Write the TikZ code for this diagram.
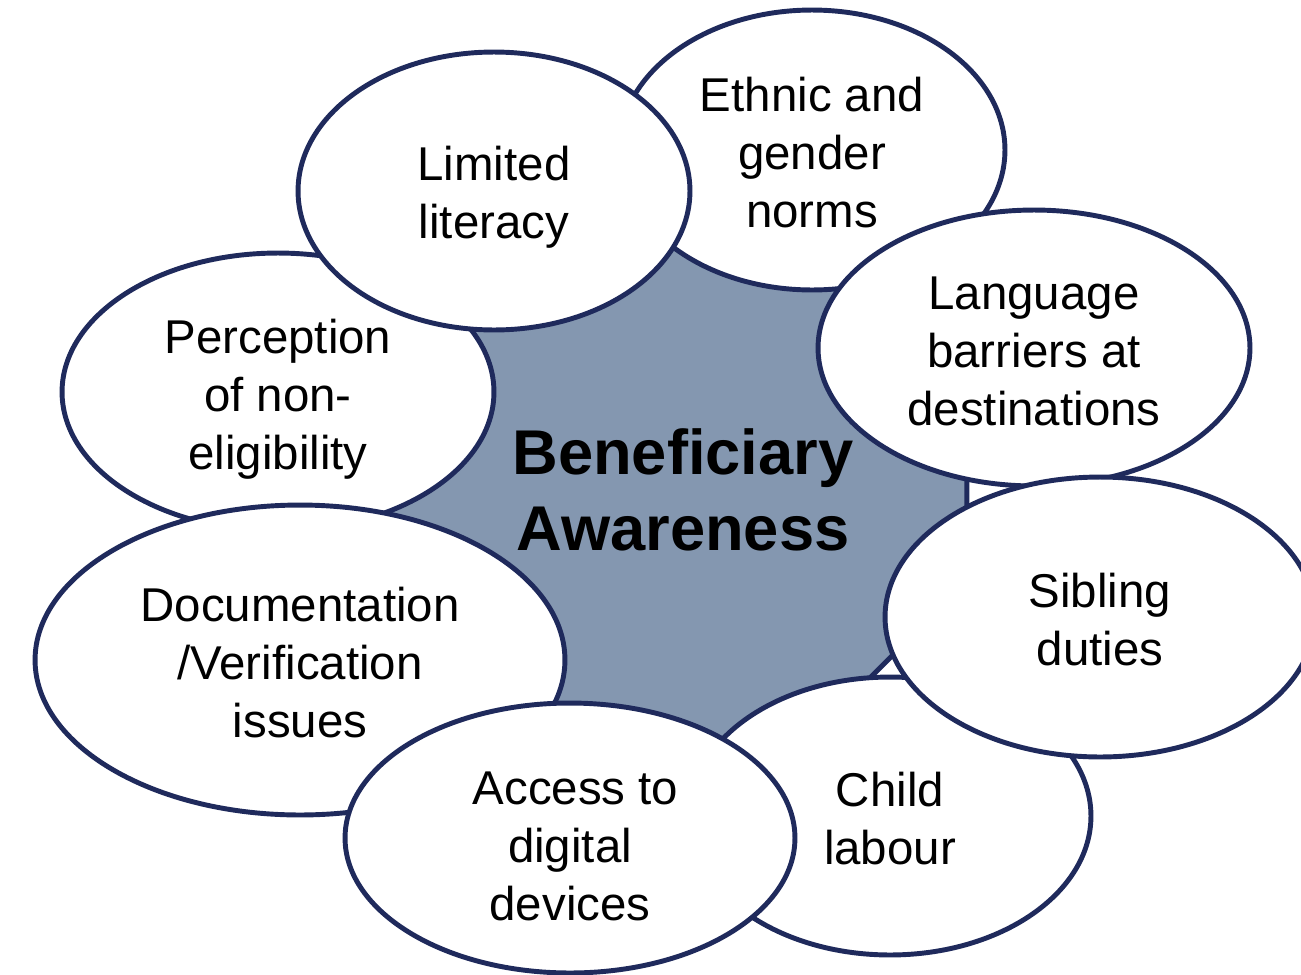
\documentclass[tikz,border=0pt]{standalone}
\usepackage{fontspec}
\setmainfont{Liberation Sans}
\usetikzlibrary{shapes.geometric}

\definecolor{rimblue}{HTML}{1F2A5C}
\definecolor{hubfill}{HTML}{8497B0}

% first-line strut, lowers a bubble text a little
\newcommand{\dropby}[1]{\rule{0pt}{#1}}

\begin{document}
\begin{tikzpicture}[x=0.02cm, y=-0.02cm,
  bubble/.style={ellipse, draw=rimblue, line width=2.8pt, fill=white,
    inner sep=0pt, align=center, font=\fontsize{27}{33}\selectfont}]
  \clip (0,0) rectangle (1301,974);

  % centre shape
  \node[regular polygon, regular polygon sides=8, minimum size=12.64cm,
    draw=rimblue, line width=2.8pt, fill=hubfill] (hub) at (675,460) {};

  % bubbles, from back to front
  \node[bubble, minimum width=8.04cm, minimum height=5.56cm] (child) at (890,816) {\dropby{23pt}Child\\labour};
  \node[bubble, minimum width=8.64cm, minimum height=5.56cm] (perception) at (278,392) {\dropby{28pt}Perception\\of non-\\eligibility};
  \node[bubble, minimum width=7.72cm, minimum height=5.6cm] (ethnic) at (812,150) {\dropby{23pt}Ethnic and\\gender\\norms};
  \node[bubble, minimum width=8.64cm, minimum height=5.52cm] (language) at (1034,348) {\dropby{22pt}Language\\barriers at\\destinations};
  \node[bubble, minimum width=8.6cm, minimum height=5.6cm] (sibling) at (1100,617) {\dropby{22pt}Sibling\\duties};
  \node[bubble, minimum width=10.6cm, minimum height=6.2cm] (docs) at (300,660) {\dropby{22pt}Documentation\\/Verification\\issues};
  \node[bubble, minimum width=9cm, minimum height=5.4cm] (access) at (570,838) {\dropby{28.5pt}\hspace*{0.22cm}Access to\\digital\\devices};
  \node[bubble, minimum width=7.84cm, minimum height=5.56cm] (literacy) at (494,191) {\dropby{27pt}Limited\\literacy};

  % centre label
  \node[align=center, font=\fontsize{36}{43}\selectfont\bfseries] (title) at (683,490) {Beneficiary\\Awareness};
\end{tikzpicture}
\end{document}
